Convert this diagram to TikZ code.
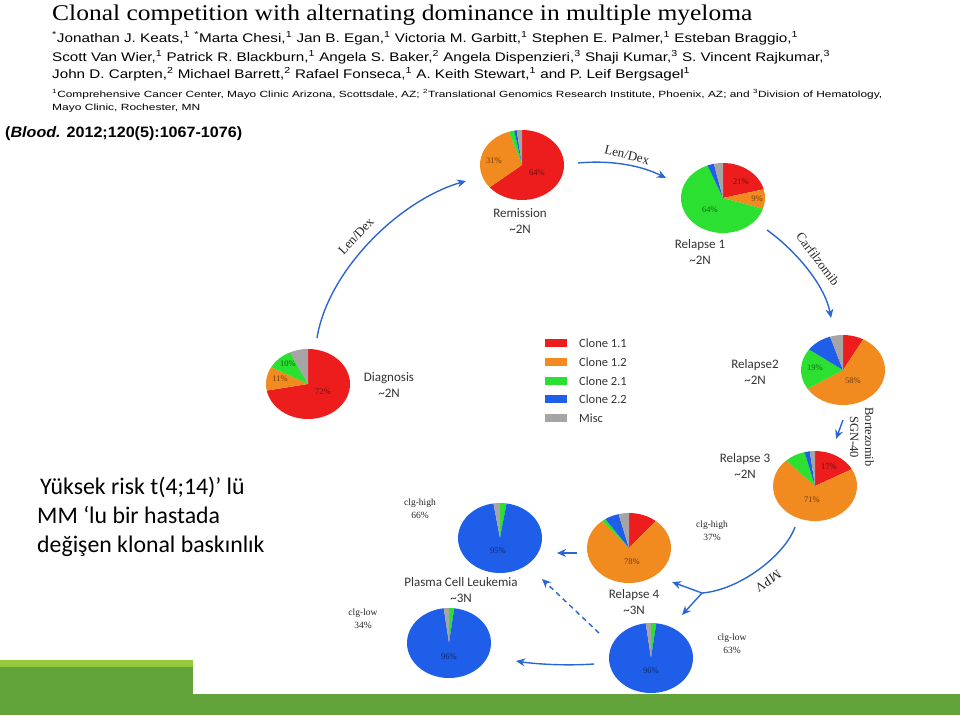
\documentclass[tikz,border=0pt]{standalone}
\usepackage{fontspec}
\usepackage{graphicx}
\setmainfont{Liberation Serif}
\setsansfont{Liberation Sans}
\newfontfamily\calibri{Carlito}
\usetikzlibrary{arrows.meta}
\definecolor{cRed}{HTML}{EE1D1D}
\definecolor{cOrange}{HTML}{F18A1F}
\definecolor{cGreen}{HTML}{2BE030}
\definecolor{cBlue}{HTML}{1E5EE8}
\definecolor{cGray}{HTML}{A6A4A4}
\definecolor{arrowblue}{HTML}{2B66D6}
\definecolor{gDark}{HTML}{62A33A}
\definecolor{gLight}{HTML}{97C93D}
\newcommand{\drawpie}[2]{%
  \def\pieang{90}%
  \foreach \p/\c in {#2}{%
    \pgfmathsetmacro\pieend{\pieang-3.6*\p}%
    \fill[\c] (#1) -- ++(\pieang:42pt and 35pt) arc[start angle=\pieang,end angle=\pieend,x radius=42pt,y radius=35pt] -- cycle;
    \global\let\pieang\pieend
  }%
}
\newcommand{\fitw}[2]{\resizebox{#1}{\height}{#2}}
\newcommand{\sone}{\textsuperscript{1}}
\newcommand{\stwo}{\textsuperscript{2}}
\newcommand{\sthree}{\textsuperscript{3}}
\begin{document}
\begin{tikzpicture}[x=1pt,y=-1pt,
  hdr/.style={anchor=base west,inner sep=0pt},
  pct/.style={font=\fontsize{8.5}{9}\selectfont, text=black, text opacity=0.55, inner sep=0pt},
  lbl/.style={font=\calibri\fontsize{13}{15.5}\selectfont, text=black!80, align=center, inner sep=0pt},
  clg/.style={font=\fontsize{9.5}{13}\selectfont, text=black!85, align=center, inner sep=0pt},
  drug/.style={font=\fontsize{13}{13}\selectfont, text=black!85, inner sep=0pt},
  leg/.style={font=\calibri\fontsize{12.5}{14}\selectfont, text=black!80, anchor=west, inner sep=0pt},
  flow/.style={draw=arrowblue, line width=1.4pt, -{Stealth[length=9pt,width=8pt]}},
  flowline/.style={draw=arrowblue, line width=1.4pt}]
\useasboundingbox (0,0) rectangle (960,715);
\fill[white] (0,0) rectangle (960,715);
% header
\node[hdr, font=\fontsize{22.5}{24}\selectfont] (title) at (52,20) {\fitw{700pt}{Clonal competition with alternating dominance in multiple myeloma}};
\node[hdr, font=\sffamily\fontsize{12.5}{14}\selectfont] (au1) at (52,42) {\fitw{746pt}{\textsuperscript{*}Jonathan J. Keats,\sone{} \textsuperscript{*}Marta Chesi,\sone{} Jan B. Egan,\sone{} Victoria M. Garbitt,\sone{} Stephen E. Palmer,\sone{} Esteban Braggio,\sone}};
\node[hdr, font=\sffamily\fontsize{12.5}{14}\selectfont] (au2) at (52,61) {\fitw{778pt}{Scott Van Wier,\sone{} Patrick R. Blackburn,\sone{} Angela S. Baker,\stwo{} Angela Dispenzieri,\sthree{} Shaji Kumar,\sthree{} S. Vincent Rajkumar,\sthree}};
\node[hdr, font=\sffamily\fontsize{12.5}{14}\selectfont] (au3) at (52,78) {\fitw{638pt}{John D. Carpten,\stwo{} Michael Barrett,\stwo{} Rafael Fonseca,\sone{} A. Keith Stewart,\sone{} and P. Leif Bergsagel\sone}};
\node[hdr, font=\sffamily\fontsize{9}{10}\selectfont] (af1) at (52,97) {\fitw{830pt}{\sone Comprehensive Cancer Center, Mayo Clinic Arizona, Scottsdale, AZ; \stwo Translational Genomics Research Institute, Phoenix, AZ; and \sthree Division of Hematology,}};
\node[hdr, font=\sffamily\fontsize{9}{10}\selectfont] (af2) at (52,110) {\fitw{148pt}{Mayo Clinic, Rochester, MN}};
\node[hdr, font=\sffamily\bfseries\fontsize{15}{16}\selectfont] (cite) at (5,137) {\fitw{237pt}{(\textit{Blood.} 2012;120(5):1067-1076)}};
% pies
\coordinate (dia) at (308,384);
\coordinate (rem) at (522,165);
\coordinate (rA) at (723,198);
\coordinate (rB) at (843,370);
\coordinate (rC) at (815,486);
\coordinate (rD) at (629,548);
\coordinate (pclh) at (500,538);
\coordinate (pcll) at (449,643);
\coordinate (rDl) at (651,658);
\drawpie{dia}{72/cRed,11/cOrange,10/cGreen,7/cGray}
\drawpie{rem}{64/cRed,31/cOrange,2/cGreen,1/cBlue,2/cGray}
\drawpie{rA}{21/cRed,9/cOrange,64/cGreen,2.5/cBlue,3.5/cGray}
\drawpie{rB}{8/cRed,58/cOrange,19/cGreen,10/cBlue,5/cGray}
\drawpie{rC}{17/cRed,71/cOrange,8/cGreen,2/cBlue,2/cGray}
\drawpie{rD}{11/cRed,78/cOrange,1.5/cGreen,5.5/cBlue,4/cGray}
\drawpie{pclh}{2.5/cGreen,95/cBlue,2.5/cGray}
\drawpie{pcll}{2/cGreen,96/cBlue,2/cGray}
\drawpie{rDl}{2/cGreen,96/cBlue,2/cGray}
% percentages
\node[pct] (pd1) at (288,364) {10\%};
\node[pct] (pd2) at (280,379) {11\%};
\node[pct] (pd3) at (323,392) {72\%};
\node[pct] (pr1) at (494,161) {31\%};
\node[pct] (pr2) at (537,173) {64\%};
\node[pct] (pa1) at (741,182) {21\%};
\node[pct] (pa2) at (757,199) {9\%};
\node[pct] (pa3) at (710,210) {64\%};
\node[pct] (pb1) at (815,368) {19\%};
\node[pct] (pb2) at (853,381) {58\%};
\node[pct] (pc1) at (829,467) {17\%};
\node[pct] (pc2) at (812,500) {71\%};
\node[pct] (pe1) at (632,562) {78\%};
\node[pct] (pf1) at (498,551) {95\%};
\node[pct] (pg1) at (449,657) {96\%};
\node[pct] (ph1) at (651,671) {96\%};
% stage labels
\node[lbl] (lrem) at (520,221) {Remission\\\textasciitilde2N};
\node[lbl] (lrA) at (700,252) {Relapse 1\\\textasciitilde2N};
\node[lbl] (ldia) at (389,385) {Diagnosis\\\textasciitilde2N};
\node[lbl] (lrB) at (755,372) {Relapse2\\\textasciitilde2N};
\node[lbl] (lrC) at (745,466) {Relapse 3\\\textasciitilde2N};
\node[lbl] (lrD) at (634,602) {Relapse 4\\\textasciitilde3N};
\node[lbl] (lpcl) at (461,590) {Plasma Cell Leukemia\\\textasciitilde3N};
% clg labels
\node[clg] (c1) at (420,509) {clg-high\\66\%};
\node[clg] (c2) at (712,531) {clg-high\\37\%};
\node[clg] (c3) at (363,619) {clg-low\\34\%};
\node[clg] (c4) at (732,644) {clg-low\\63\%};
% legend
\foreach \yy/\cc/\tt [count=\i] in {343/cRed/Clone 1.1,362/cOrange/Clone 1.2,381/cGreen/Clone 2.1,399/cBlue/Clone 2.2,418/cGray/Misc}{
  \fill[\cc] (545,\yy-4) rectangle (567,\yy+4);
  \node[leg] (leg\i) at (579,\yy) {\tt};
}
% arrows
\coordinate (a1s) at (317,338); \coordinate (a1e) at (466,181);
\draw[flow] (a1s) .. controls (328,270) and (400,200) .. (a1e);
\node[drug, rotate=47] (d1) at (356,236) {Len/Dex};
\coordinate (a2s) at (578,163); \coordinate (a2e) at (666,178);
\draw[flow] (a2s) .. controls (610,160) and (640,165) .. (a2e);
\node[drug, rotate=-14] (d2) at (627,155) {Len/Dex};
\coordinate (a3s) at (767,230); \coordinate (a3e) at (831,318);
\draw[flow] (a3s) .. controls (795,250) and (825,285) .. (a3e);
\node[drug, rotate=-53] (d3) at (818,259) {Carfilzomib};
\coordinate (a4s) at (843,420); \coordinate (a4e) at (836,439);
\draw[flow] (a4s) -- (a4e);
\node[drug, rotate=-90, align=center, font=\fontsize{12.5}{15}\selectfont] (d4) at (862,437) {Bortezomib\\SGN-40};
\coordinate (m0) at (795,527); \coordinate (mb) at (702,593);
\coordinate (m1) at (672,582); \coordinate (m2) at (682,615);
\draw[flowline] (m0) .. controls (785,555) and (740,590) .. (mb);
\draw[flow] (mb) -- (m1);
\draw[flow] (mb) -- (m2);
\node[drug, rotate=213] (d5) at (768,581) {MPV};
\coordinate (a6s) at (577,553); \coordinate (a6e) at (557,553);
\draw[flow] (a6s) -- (a6e);
\coordinate (a7s) at (599,633); \coordinate (a7e) at (542,579);
\draw[flow, dash pattern=on 5pt off 4pt] (a7s) -- (a7e);
\coordinate (a8s) at (594,664); \coordinate (a8e) at (516,661);
\draw[flow] (a8s) .. controls (565,666) and (535,664) .. (a8e);
% Turkish caption
\node[anchor=base west, inner sep=0pt, font=\calibri\fontsize{23.8}{29}\selectfont] (tr1) at (40,494) {Yüksek risk t(4;14)’ lü};
\node[anchor=base west, inner sep=0pt, font=\calibri\fontsize{23.8}{29}\selectfont] (tr2) at (37,523) {MM ‘lu bir hastada};
\node[anchor=base west, inner sep=0pt, font=\calibri\fontsize{23.8}{29}\selectfont] (tr3) at (37,552) {değişen klonal baskınlık};
% green bars
\fill[gLight] (0,660) rectangle (193,667);
\fill[gDark] (0,667) rectangle (193,715);
\fill[gDark] (193,694) rectangle (960,715);
\end{tikzpicture}
\end{document}
